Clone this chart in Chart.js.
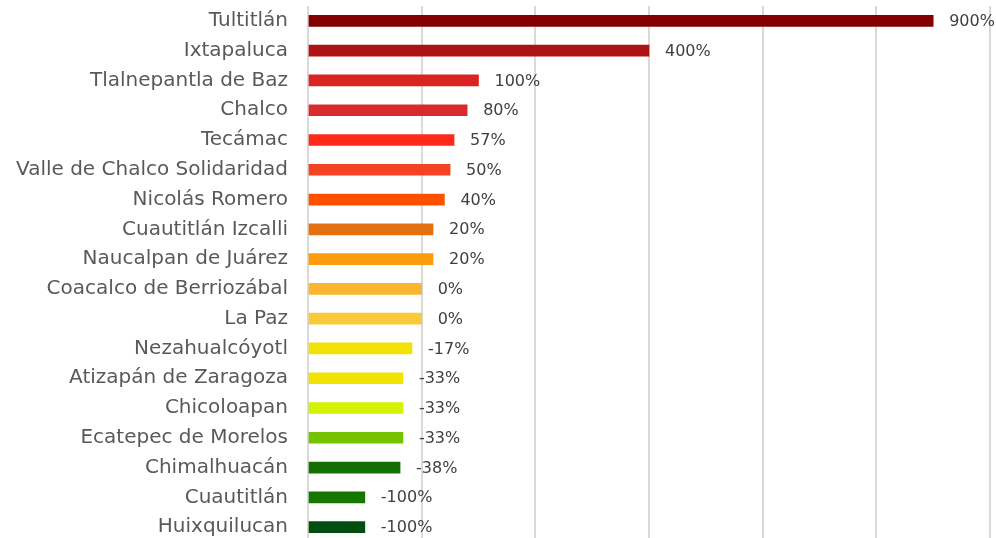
<!DOCTYPE html>
<html>
<head>
<meta charset="utf-8">
<script src="https://cdn.jsdelivr.net/npm/chart.js@4.4.0/dist/chart.umd.min.js"></script>
<style>
  html, body { margin: 0; padding: 0; background: #fff; overflow: hidden; }
  #wrap { width: 996px; height: 545px; }
</style>
</head>
<body>
<div id="wrap"><canvas id="barChart"></canvas></div>
<script>
// municipios y variación porcentual
const municipios = [
  "Tultitlán", "Ixtapaluca", "Tlalnepantla de Baz", "Chalco", "Tecámac",
  "Valle de Chalco Solidaridad", "Nicolás Romero", "Cuautitlán Izcalli",
  "Naucalpan de Juárez", "Coacalco de Berriozábal", "La Paz", "Nezahualcóyotl",
  "Atizapán de Zaragoza", "Chicoloapan", "Ecatepec de Morelos", "Chimalhuacán",
  "Cuautitlán", "Huixquilucan"
];
const variacion = [900, 400, 100, 80, 57, 50, 40, 20, 20, 0, 0, -17, -33, -33, -33, -38, -100, -100];
const colores = [
  "#840000", "#ad1313", "#dc2323", "#d92b2e", "#ff2a1a", "#f44323", "#ff5000",
  "#e5700f", "#ff9c0c", "#fbb631", "#f8ca3a", "#f3e107", "#f2e200", "#d3f300",
  "#74c300", "#137000", "#147800", "#004f10"
];
const ejeMin = -200, ejeMax = 1000, ejePaso = 200;

// etiquetas de valor a la derecha de cada barra
const valueLabels = {
  id: "valueLabels",
  afterDatasetsDraw(chart) {
    const ctx = chart.ctx;
    const meta = chart.getDatasetMeta(0);
    ctx.save();
    ctx.font = "16px 'DejaVu Sans'";
    ctx.fillStyle = "#404040";
    ctx.textAlign = "left";
    ctx.textBaseline = "middle";
    meta.data.forEach(function(bar, i) {
      ctx.fillText(variacion[i] + "%", bar.x + 16, bar.y + 1);
    });
    ctx.restore();
  }
};

new Chart(document.getElementById("barChart"), {
  type: "bar",
  data: {
    labels: municipios,
    datasets: [{
      data: variacion,
      base: ejeMin,
      backgroundColor: colores,
      barThickness: 11
    }]
  },
  options: {
    indexAxis: "y",
    responsive: true,
    maintainAspectRatio: false,
    animation: false,
    layout: { padding: { top: 6, bottom: 3, left: 0, right: 6 } },
    plugins: { legend: { display: false }, tooltip: { enabled: false } },
    scales: {
      x: {
        min: ejeMin,
        max: ejeMax,
        ticks: { display: false, stepSize: ejePaso },
        grid: { color: "#d9d9d9", lineWidth: 2, drawTicks: false },
        border: { display: false },
        afterFit: function(s) { s.height = 0; s.paddingLeft = 0; s.paddingRight = 0; }
      },
      y: {
        ticks: { color: "#595959", font: { family: "DejaVu Sans", size: 20 }, padding: 20 },
        grid: { display: false, drawTicks: false },
        border: { display: false },
        afterFit: function(s) { s.width = 308; s.paddingTop = 0; s.paddingBottom = 0; }
      }
    }
  },
  plugins: [valueLabels]
});
</script>
</body>
</html>
